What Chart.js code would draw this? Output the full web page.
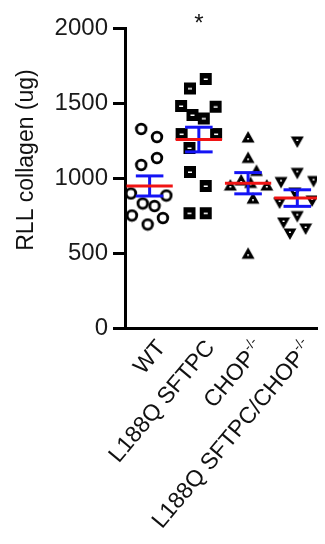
<!DOCTYPE html>
<html>
<head>
<meta charset="utf-8">
<script src="https://cdn.jsdelivr.net/npm/chart.js@4.4.1/dist/chart.umd.min.js"></script>
<style>
  html, body { margin: 0; padding: 0; background: #fff; overflow: hidden; }
  #chart { display: block; }
</style>
</head>
<body>
<canvas id="chart" width="325" height="544"></canvas>
<script>
// categories (superscript part kept apart so it can be drawn small)
const groupNames = ["WT", "L188Q SFTPC", "CHOP", "L188Q SFTPC/CHOP"];
const groupSuper = ["", "", "-/-", "-/-"];

// RLL collagen (ug) per animal
const wtValues     = [1327, 1273, 1133, 1087, 897, 883, 830, 813, 750, 733, 690];
const l188qValues  = [1660, 1597, 1480, 1475, 1420, 1397, 1293, 1293, 1200, 1040, 947, 765, 765];
const chopValues   = [1273, 1137, 1050, 987, 970, 953, 953, 865, 498];
const doubleValues = [1240, 1031, 970, 977, 900, 833, 847, 743, 700, 627, 660];

// horizontal scatter of each dot, in category units
const wtSpread     = [-0.17, 0.15, 0.15, -0.17, -0.38, 0.34, -0.14, 0.10, -0.36, 0.27, -0.04];
const l188qSpread  = [0.14, -0.18, -0.36, 0.34, -0.13, 0.10, -0.35, 0.35, -0.19, -0.18, 0.14, -0.19, 0.14];
const chopSpread   = [0, 0, 0.17, -0.14, 0.05, -0.36, 0.38, 0.10, 0];
const doubleSpread = [0, 0, -0.33, 0.33, -0.05, -0.36, 0.30, 0, -0.28, -0.15, 0.17];

const yTickValues = [0, 500, 1000, 1500, 2000];

const FONT = "'Liberation Sans', Arial, sans-serif";

const mean = (a) => a.reduce((s, v) => s + v, 0) / a.length;
const sem = (a) => {
  const m = mean(a);
  const sd = Math.sqrt(a.reduce((s, v) => s + (v - m) * (v - m), 0) / (a.length - 1));
  return sd / Math.sqrt(a.length);
};

// marker images (GraphPad style symbols)
const makeMarker = (kind) => {
  const c = document.createElement("canvas");
  c.width = 14; c.height = 14;
  const g = c.getContext("2d");
  g.fillStyle = "#000";
  if (kind === "circle") {
    g.beginPath();
    g.arc(7, 7, 4.8, 0, Math.PI * 2);
    g.fillStyle = "#fff";
    g.fill();
    g.lineWidth = 2.8;
    g.strokeStyle = "#000";
    g.stroke();
  } else if (kind === "square") {
    g.fillRect(1, 1, 12, 12);
    g.fillStyle = "#fff";
    g.fillRect(5, 6.5, 4, 1.5);
  } else if (kind === "up") {
    g.beginPath();
    g.moveTo(7, 1); g.lineTo(13.5, 12.5); g.lineTo(0.5, 12.5); g.closePath();
    g.fill();
    g.fillStyle = "#fff";
    g.fillRect(6, 8, 2, 1.5);
  } else {
    g.beginPath();
    g.moveTo(0.5, 1.5); g.lineTo(13.5, 1.5); g.lineTo(7, 13); g.closePath();
    g.fill();
    g.fillStyle = "#fff";
    g.fillRect(6, 4.5, 2, 1.5);
  }
  return c;
};

const groups = [
  { values: wtValues, spread: wtSpread, marker: makeMarker("circle") },
  { values: l188qValues, spread: l188qSpread, marker: makeMarker("square") },
  { values: chopValues, spread: chopSpread, marker: makeMarker("up") },
  { values: doubleValues, spread: doubleSpread, marker: makeMarker("down") }
];

const datasets = [];
const seg = (pts, color, order) => ({
  type: "line",
  data: pts,
  borderColor: color,
  borderWidth: 3,
  pointRadius: 0,
  fill: false,
  order: order
});

groups.forEach((grp, i) => {
  const m = mean(grp.values);
  const e = sem(grp.values);
  // mean line on top
  datasets.push(seg([{ x: i - 0.47, y: m }, { x: i + 0.47, y: m }], "rgb(240,20,20)", 0));
  // SEM bar + caps
  datasets.push(seg([{ x: i, y: m - e }, { x: i, y: m + e }], "rgb(20,20,245)", 1));
  datasets.push(seg([{ x: i - 0.28, y: m + e }, { x: i + 0.28, y: m + e }], "rgb(20,20,245)", 1));
  datasets.push(seg([{ x: i - 0.28, y: m - e }, { x: i + 0.28, y: m - e }], "rgb(20,20,245)", 1));
  datasets.push({
    type: "scatter",
    data: grp.values.map((v, k) => ({ x: i + grp.spread[k], y: v })),
    pointStyle: grp.marker,
    pointRadius: 7,
    order: 2
  });
});

const annotationsPlugin = {
  id: "annotations",
  afterDraw(chart) {
    const { ctx, chartArea, scales } = chart;
    const xs = scales.x;
    ctx.save();
    ctx.fillStyle = "#111";

    // y axis title
    ctx.save();
    ctx.font = "23px " + FONT;
    ctx.textAlign = "center";
    ctx.textBaseline = "alphabetic";
    ctx.translate(33, (chartArea.top + chartArea.bottom) / 2 - 18);
    ctx.rotate(-Math.PI / 2);
    ctx.fillText("RLL collagen (ug)", 0, 0);
    ctx.restore();

    // significance star
    ctx.font = "24px " + FONT;
    ctx.textAlign = "center";
    ctx.textBaseline = "alphabetic";
    ctx.fillText("*", xs.getPixelForValue(1), 31);

    // rotated category labels
    groupNames.forEach((name, i) => {
      const px = xs.getPixelForValue(i);
      ctx.save();
      ctx.translate(px + 12, chartArea.bottom + 16);
      ctx.rotate(-50 * Math.PI / 180);
      ctx.textAlign = "right";
      ctx.textBaseline = "middle";
      let supW = 0;
      if (groupSuper[i]) {
        ctx.font = "14px " + FONT;
        supW = ctx.measureText(groupSuper[i]).width;
        ctx.fillText(groupSuper[i], 0, -7);
      }
      ctx.font = "23px " + FONT;
      ctx.fillText(name, -supW, 0);
      ctx.restore();
    });
    ctx.restore();
  }
};

new Chart(document.getElementById("chart"), {
  type: "scatter",
  data: { datasets: datasets },
  options: {
    responsive: false,
    devicePixelRatio: 1,
    animation: false,
    layout: { padding: { top: 28, right: 0, left: 0, bottom: 0 } },
    plugins: {
      legend: { display: false },
      tooltip: { enabled: false }
    },
    scales: {
      x: {
        type: "linear",
        min: -0.5,
        max: 3.4,
        ticks: { display: false },
        grid: { display: false },
        border: { display: true, color: "#000", width: 3 },
        afterFit: (scale) => { scale.height = 216; }
      },
      y: {
        min: 0,
        max: 2000,
        afterBuildTicks: (scale) => { scale.ticks = yTickValues.map((v) => ({ value: v })); },
        ticks: {
          color: "#1a1a1a",
          padding: 5,
          font: { family: FONT, size: 24 },
          callback: (v) => String(v)
        },
        grid: {
          drawOnChartArea: false,
          drawTicks: true,
          tickLength: 12,
          lineWidth: 3,
          color: "#000"
        },
        border: { display: true, color: "#000", width: 3 },
        afterFit: (scale) => { scale.width = 125; }
      }
    }
  },
  plugins: [annotationsPlugin]
});
</script>
</body>
</html>
